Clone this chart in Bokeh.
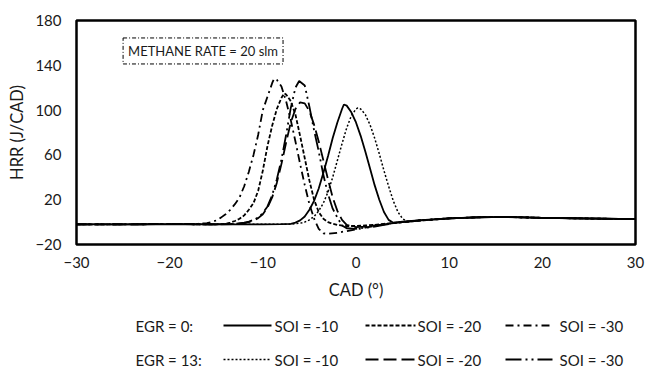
from bokeh.plotting import figure
from bokeh.models import Range1d, FixedTicker, Label
from bokeh.layouts import column
from bokeh.embed import file_html
from bokeh.resources import INLINE
from bokeh.core.properties import value

FONT = "Lato"

# ---------------- data ----------------
cad_e0_s10 = [-30, -25, -20, -15, -10, -8, -7, -6.5, -6, -5.5, -5, -4.5, -4, -3.5, -3, -2.5, -2, -1.5, -1.3, -1,
              -0.5, 0, 0.5, 1, 1.5, 2, 2.5, 3, 3.5, 4, 5, 7, 10, 13, 16, 20, 25, 30]
hrr_e0_s10 = [-2, -2, -1.8, -2, -2, -1.8, -1.5, -0.5, 1.5, 5, 11, 19, 30, 44, 59, 75, 89, 101, 105, 104,
              98, 89, 77, 63, 48, 33, 20, 9, 2, -0.5, 0.3, 1.8, 3.3, 4.3, 4.6, 3.8, 3.2, 2.6]

cad_e13_s10 = [-30, -25, -20, -15, -10, -7, -6, -5.5, -5, -4.5, -4, -3.5, -3, -2.5, -2, -1.5, -1, -0.5, 0, 0.2,
               0.5, 1, 1.5, 2, 2.5, 3, 3.5, 4, 4.5, 5, 5.5, 7, 10, 13, 16, 20, 25, 30]
hrr_e13_s10 = [-2, -2, -1.8, -2, -2, -1.8, -1, 0, 2, 5, 10, 17, 27, 40, 55, 70, 84, 95, 101, 102,
               101, 96, 87, 75, 61, 46, 32, 19, 9, 3, 0.5, 1.8, 3.3, 4.3, 4.6, 3.8, 3.2, 2.6]

cad_e0_s30 = [-30, -25, -20, -17, -16, -15.5, -15, -14.5, -14, -13.5, -13, -12.5, -12, -11.5, -11, -10.5, -10,
              -9.5, -9, -8.8, -8.5, -8, -7.5, -7, -6.5, -6, -5.5, -5, -4.5, -4, -3.5, -3, -2, -1, 0, 1, 2, 3,
              4, 5, 7, 10, 13, 16, 20, 25, 30]
hrr_e0_s30 = [-2, -2, -1.8, -1.5, -1, 0, 1.5, 4, 7, 11, 16, 22, 32, 45, 60, 78, 100,
              112, 124, 128, 127, 121, 108, 91, 72, 52, 33, 16, 3, -6, -10, -10.5, -9.5, -8, -6.5, -5, -3.5, -2,
              -1, 0, 1.5, 3.3, 4.3, 4.6, 3.8, 3.2, 2.6]

cad_e0_s20 = [-30, -25, -20, -15, -14, -13.5, -13, -12.5, -12, -11.5, -11, -10.5, -10, -9.5, -9, -8.5, -8, -7.7,
              -7.5, -7, -6.5, -6, -5.5, -5, -4.5, -4, -3.5, -3, -2.5, -2, -1, 0, 1, 2, 3, 4, 5, 7, 10, 13, 16,
              20, 25, 30]
hrr_e0_s20 = [-2, -2, -1.8, -2, -1.5, -0.5, 1, 3, 6, 11, 17, 28, 46, 68, 86, 101, 111, 115,
              114, 108, 96, 77, 57, 37, 20, 9, 3, 0, -1.5, -2.5, -3.5, -3.5, -3, -2.5, -1.5, -0.8, 0, 1.5, 3.3,
              4.3, 4.6, 3.8, 3.2, 2.6]

cad_e13_s30 = [-30, -25, -20, -15, -13, -12, -11.5, -11, -10.5, -10, -9.5, -9, -8.5, -8, -7.5, -7, -6.5, -6.1,
               -5.5, -5, -4.5, -4, -3.5, -3, -2.5, -2, -1.5, -1, 0, 1, 2, 3, 4, 5, 7, 10, 13, 16, 20, 25, 30]
hrr_e13_s30 = [-2, -2, -1.8, -2, -1.5, -0.5, 0.5, 2, 4, 8, 14, 24, 38, 56, 78, 102, 120, 126,
               122, 103, 82, 63, 42, 25, 12, 4, -3, -5.5, -6, -5, -4, -2.5, -1, 0, 1.5, 3.3, 4.3, 4.6, 3.8,
               3.2, 2.6]

cad_e13_s20 = [-30, -25, -20, -15, -13, -12, -11.5, -11, -10.5, -10, -9.5, -9, -8.5, -8, -7.5, -7, -6.5, -6,
               -5.5, -5, -4.5, -4, -3.5, -3, -2.5, -2, -1.5, -1, 0, 1, 2, 3, 4, 5, 7, 10, 13, 16, 20, 25, 30]
hrr_e13_s20 = [-2, -2, -1.8, -2, -1.8, -1, 0, 1.5, 3.5, 7, 13, 22, 35, 52, 71, 89, 101, 107,
               106, 99, 87, 72, 55, 38, 22, 10, 2, -2.5, -4.5, -4, -3, -2, -1, 0, 1.5, 3.3, 4.3, 4.6, 3.8,
               3.2, 2.6]

x_ticks = [-30, -20, -10, 0, 10, 20, 30]
y_ticks = [-20, 20, 60, 100, 140, 180]

row_labels = ["EGR = 0:", "EGR = 13:"]
soi_labels = ["SOI = -10", "SOI = -20", "SOI = -30"]

# ---------------- main figure ----------------
p = figure(width=646, height=305, output_backend="svg", toolbar_location=None,
           x_range=Range1d(-30, 30), y_range=Range1d(-20, 180),
           min_border_left=76, min_border_right=11, min_border_top=20, min_border_bottom=61)

p.outline_line_color = "black"
p.outline_line_width = 2.5
p.xgrid.visible = False
p.ygrid.visible = False
p.background_fill_color = "white"
p.border_fill_color = "white"

for ax in (p.xaxis[0], p.yaxis[0]):
    ax.axis_line_color = None
    ax.major_tick_line_color = None
    ax.minor_tick_line_color = None
    ax.major_tick_out = 0
    ax.major_tick_in = 0
    ax.major_label_text_font = FONT
    ax.major_label_text_font_size = "15px"
    ax.major_label_text_color = "#1a1a1a"
    ax.axis_label_text_font = FONT
    ax.axis_label_text_font_size = "16.5px"
    ax.axis_label_text_font_style = "normal"
    ax.axis_label_text_color = "#1a1a1a"

p.xaxis.ticker = FixedTicker(ticks=x_ticks)
p.yaxis.ticker = FixedTicker(ticks=y_ticks)
p.xaxis.axis_label = "CAD (°)"
p.yaxis.axis_label = "HRR (J/CAD)"
p.xaxis.major_label_standoff = 12
p.xaxis.axis_label_standoff = 9
p.yaxis.major_label_standoff = 15
p.yaxis.axis_label_standoff = 5

styles = [
    (cad_e0_s10, hrr_e0_s10, None, 1.8),
    (cad_e0_s20, hrr_e0_s20, "4 2", 1.8),
    (cad_e0_s30, hrr_e0_s30, "8 4 2 4", 1.8),
    (cad_e13_s10, hrr_e13_s10, "2 2", 1.5),
    (cad_e13_s20, hrr_e13_s20, "13 5", 1.8),
    (cad_e13_s30, hrr_e13_s30, "16 4 2 4 2 4", 1.8),
]
for xs, ys, dash, lw in styles:
    if dash is None:
        p.line(xs, ys, line_color="black", line_width=lw)
    else:
        p.line(xs, ys, line_color="black", line_width=lw, line_dash=dash)

box = Label(x=-25.0, y=152.8, text="METHANE RATE = 20 slm", text_font=FONT, text_font_size="13px",
            text_baseline="middle", text_align="left", text_color="#1a1a1a",
            border_line_color="black", border_line_width=1, border_line_dash="4 2 1 2",
            background_fill_color="white", padding=5)
p.add_layout(box)

# ---------------- legend figure (frame aligned with the main plot frame) ----------------
q = figure(width=646, height=68, output_backend="svg", toolbar_location=None,
           x_range=Range1d(76, 635), y_range=Range1d(373, 305),
           x_axis_type=None, y_axis_type=None,
           min_border_left=76, min_border_right=11, min_border_top=0, min_border_bottom=0)
q.outline_line_color = None
q.xgrid.visible = False
q.ygrid.visible = False
q.border_fill_color = "white"

row_y = [325, 359]
seg_x0 = [223, 365, 505]
seg_x1 = [271, 415, 552]
txt_x = [274, 417, 559]

q.text(x=[135, 135], y=row_y, text=row_labels, text_font=value(FONT), text_font_size="15px",
       text_baseline="middle", text_align="left", text_color="#1a1a1a")
for r in range(2):
    for c in range(3):
        _, _, dash, lw = styles[r * 3 + c]
        kw = dict(line_color="black", line_width=lw)
        if dash is not None:
            kw["line_dash"] = dash
        q.line([seg_x0[c], seg_x1[c]], [row_y[r], row_y[r]], **kw)
    q.text(x=txt_x, y=[row_y[r]] * 3, text=soi_labels, text_font=value(FONT), text_font_size="15px",
           text_baseline="middle", text_align="left", text_color="#1a1a1a")

layout = column(p, q, spacing=0)
open("out.html", "w").write(file_html(layout, INLINE))
